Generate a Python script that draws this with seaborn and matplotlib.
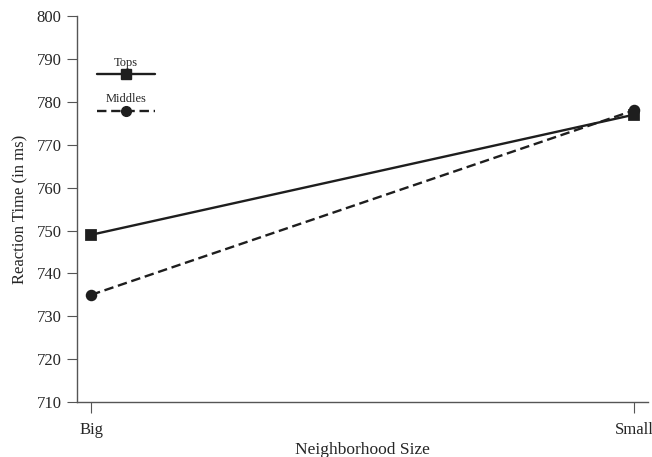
import pandas as pd
import matplotlib
matplotlib.use("Agg")
import matplotlib.pyplot as plt
import seaborn as sns
from matplotlib.lines import Line2D

sns.set_theme(style="ticks")
plt.rcParams.update({
    'font.family': ['Liberation Serif', 'DejaVu Serif'],
    'font.size': 11,
})

# data
sizes = ["Big", "Small"]
tops = [749, 777]
middles = [735, 778]
yticks = [710, 720, 730, 740, 750, 760, 770, 780, 790, 800]

df = pd.DataFrame({
    "size": sizes * 2,
    "rt": tops + middles,
    "group": ["Tops"] * 2 + ["Middles"] * 2,
})

fig = plt.figure(figsize=(6.52, 4.57), dpi=100)
ax = fig.add_axes([0.118, 0.120, 0.876, 0.845])

ink = "#1e1e1e"
sns.pointplot(
    data=df, x="size", y="rt", hue="group",
    hue_order=["Tops", "Middles"],
    palette=[ink, ink],
    markers=["s", "o"], linestyles=["-", "--"],
    markersize=7, linewidth=1.7,
    ax=ax, legend=False,
)
for ln in ax.lines:
    if ln.get_linestyle() == "--":
        ln.set_dashes([4, 2])

ax.set_xlim(-0.026, 1.026)
ax.set_ylim(710, 800)
ax.set_yticks(yticks)
ax.tick_params(axis="y", labelsize=12, length=7, width=0.8, color="#555555", pad=4)
ax.tick_params(axis="x", labelsize=12, length=8, width=0.8, color="#555555", pad=6)
for s in ["top", "right"]:
    ax.spines[s].set_visible(False)
for s in ["left", "bottom"]:
    ax.spines[s].set_color("#555555")
    ax.spines[s].set_linewidth(1.0)

ax.set_xlabel("Neighborhood Size", fontsize=12.5, labelpad=3)
ax.set_ylabel("Reaction Time (in ms)", fontsize=12, labelpad=6)

# legend: each series name sits above its sample line
h_tops = Line2D([], [], color=ink, lw=1.7, ls="-", marker="s", markersize=7)
h_mid = Line2D([], [], color=ink, lw=1.7, ls=(0, (4, 2)), marker="o", markersize=7)
legends = []
for h, name, yy in [(h_tops, "Tops", 0.895), (h_mid, "Middles", 0.80)]:
    lg = ax.legend(handles=[h], labels=[""], title=name, loc="upper left",
                   bbox_to_anchor=(0.035, yy), frameon=False, handlelength=3.8,
                   handletextpad=0, borderpad=0, borderaxespad=0,
                   labelspacing=0, handleheight=0.4, title_fontsize=9)
    legends.append(lg)
ax.legend_ = None
for lg in legends:
    ax.add_artist(lg)

fig.savefig("out.png", dpi=100)
